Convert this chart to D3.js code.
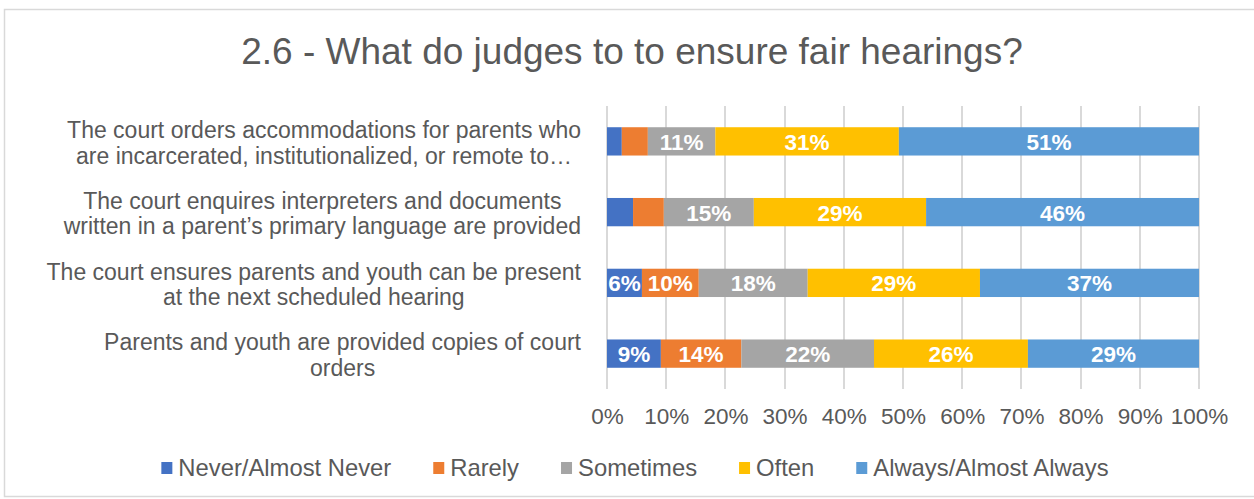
<!DOCTYPE html>
<html>
<head>
<meta charset="utf-8">
<script src="https://cdn.jsdelivr.net/npm/d3@7"></script>
<style>
  html, body { margin: 0; padding: 0; background: #fff; }
  svg { display: block; font-family: "Liberation Sans", Arial, sans-serif; }
</style>
</head>
<body>
<svg id="chart" width="1254" height="499"></svg>
<script>
// Survey question and answer scale
const title = "2.6 - What do judges to to ensure fair hearings?";

const categories = [
  ["The court orders accommodations for parents who", "are incarcerated, institutionalized, or remote to\u2026"],
  ["The court enquires interpreters and documents", "written in a parent\u2019s primary language are provided"],
  ["The court ensures parents and youth can be present", "at the next scheduled hearing"],
  ["Parents and youth are provided copies of court", "orders"]
];

const seriesNames = ["Never/Almost Never", "Rarely", "Sometimes", "Often", "Always/Almost Always"];
const seriesColors = ["#4472C4", "#ED7D31", "#A5A5A5", "#FFC000", "#5B9BD5"];

// Share of responses (%) per category, one array per answer
const never     = [2.5, 4.4, 5.9, 9.1];
const rarely    = [4.4, 5.2, 9.6, 13.6];
const sometimes = [11.4, 15.2, 18.4, 22.4];
const often     = [31.0, 29.1, 29.1, 26.0];
const always    = [50.7, 46.1, 37.0, 28.9];

// Which segments carry a value label
const showNever  = [false, false, true, true];
const showRarely = [false, false, true, true];

const xTicks = [0, 10, 20, 30, 40, 50, 60, 70, 80, 90, 100];

const series = [never, rarely, sometimes, often, always];
const showLabel = [showNever, showRarely, [true, true, true, true], [true, true, true, true], [true, true, true, true]];

const svg = d3.select("#chart");
const textColor = "#595959";
const gridColor = "#D9D9D9";

// Chart frame
svg.append("rect")
  .attr("x", 4.5).attr("y", 9.5)
  .attr("width", 1270).attr("height", 487)
  .attr("fill", "#fff").attr("stroke", gridColor).attr("stroke-width", 1.5);

// Title
svg.append("text")
  .attr("x", 632).attr("y", 64)
  .attr("text-anchor", "middle")
  .attr("font-size", 37)
  .attr("fill", textColor)
  .text(title);

const plot = { left: 607, right: 1199, top: 106, bottom: 389 };

const x = d3.scaleLinear().domain([0, 100]).range([plot.left, plot.right]);
const y = d3.scaleBand()
  .domain(d3.range(categories.length))
  .range([plot.top, plot.bottom])
  .paddingInner(0.6).paddingOuter(0.3);

// Gridlines
svg.append("g")
  .selectAll("line")
  .data(xTicks)
  .join("line")
  .attr("x1", d => Math.round(x(d))).attr("x2", d => Math.round(x(d)))
  .attr("y1", plot.top).attr("y2", plot.bottom)
  .attr("stroke", gridColor).attr("stroke-width", 2);

// X axis tick labels
const xAxis = d3.axisBottom(x).tickValues(xTicks).tickFormat(d => d + "%").tickSize(0).tickPadding(0);
const gx = svg.append("g").attr("transform", `translate(0, 424)`).call(xAxis);
gx.select(".domain").remove();
gx.selectAll("text")
  .attr("font-size", 22.5)
  .attr("font-family", "Liberation Sans, Arial, sans-serif")
  .attr("fill", textColor)
  .attr("y", 0)
  .attr("dy", 0);

// Stacked segments
const stacked = categories.map((c, i) => {
  let acc = 0;
  return series.map((s, k) => {
    const seg = { cat: i, k, x0: acc, x1: acc + s[i], v: s[i], label: showLabel[k][i] };
    acc += s[i];
    return seg;
  });
}).flat();

svg.append("g")
  .selectAll("rect")
  .data(stacked)
  .join("rect")
  .attr("x", d => x(d.x0))
  .attr("y", d => y(d.cat))
  .attr("width", d => x(d.x1) - x(d.x0))
  .attr("height", y.bandwidth())
  .attr("fill", d => seriesColors[d.k]);

svg.append("g")
  .selectAll("text")
  .data(stacked.filter(d => d.label))
  .join("text")
  .attr("x", d => (x(d.x0) + x(d.x1)) / 2)
  .attr("y", d => y(d.cat) + y.bandwidth() / 2 + 8.5)
  .attr("text-anchor", "middle")
  .attr("font-size", 22.5)
  .attr("font-weight", "bold")
  .attr("fill", "#fff")
  .text(d => Math.round(d.v) + "%");

// Category labels: block right-aligned, lines centred within the block
const catG = svg.append("g");
categories.forEach((lines, i) => {
  const cy = y(i) + y.bandwidth() / 2 + 1.5;
  const g = catG.append("g");
  const lineH = 25.5;
  const t = lines.map((ln, j) => g.append("text")
    .attr("y", cy + (j - (lines.length - 1) / 2) * lineH + 8)
    .attr("font-size", 23)
    .attr("fill", textColor)
    .attr("text-anchor", "middle")
    .text(ln));
  const widths = t.map(n => n.node().getComputedTextLength());
  const maxW = d3.max(widths);
  const cx = 581 - maxW / 2;
  t.forEach(n => n.attr("x", cx));
});

// Legend
const legend = svg.append("g");
const legendY = 468;
const items = seriesNames.map((name, k) => {
  const g = legend.append("g");
  g.append("rect").attr("x", 0).attr("y", legendY - 6).attr("width", 11).attr("height", 12).attr("fill", seriesColors[k]);
  const t = g.append("text").attr("x", 17).attr("y", legendY + 8).attr("font-size", 23.8).attr("fill", textColor).text(name);
  return { g, w: 17 + t.node().getComputedTextLength() };
});
const gap = 42;
const totalW = d3.sum(items, d => d.w) + gap * (items.length - 1);
let lx = 635 - totalW / 2;
items.forEach(it => { it.g.attr("transform", `translate(${lx},0)`); lx += it.w + gap; });
</script>
</body>
</html>
